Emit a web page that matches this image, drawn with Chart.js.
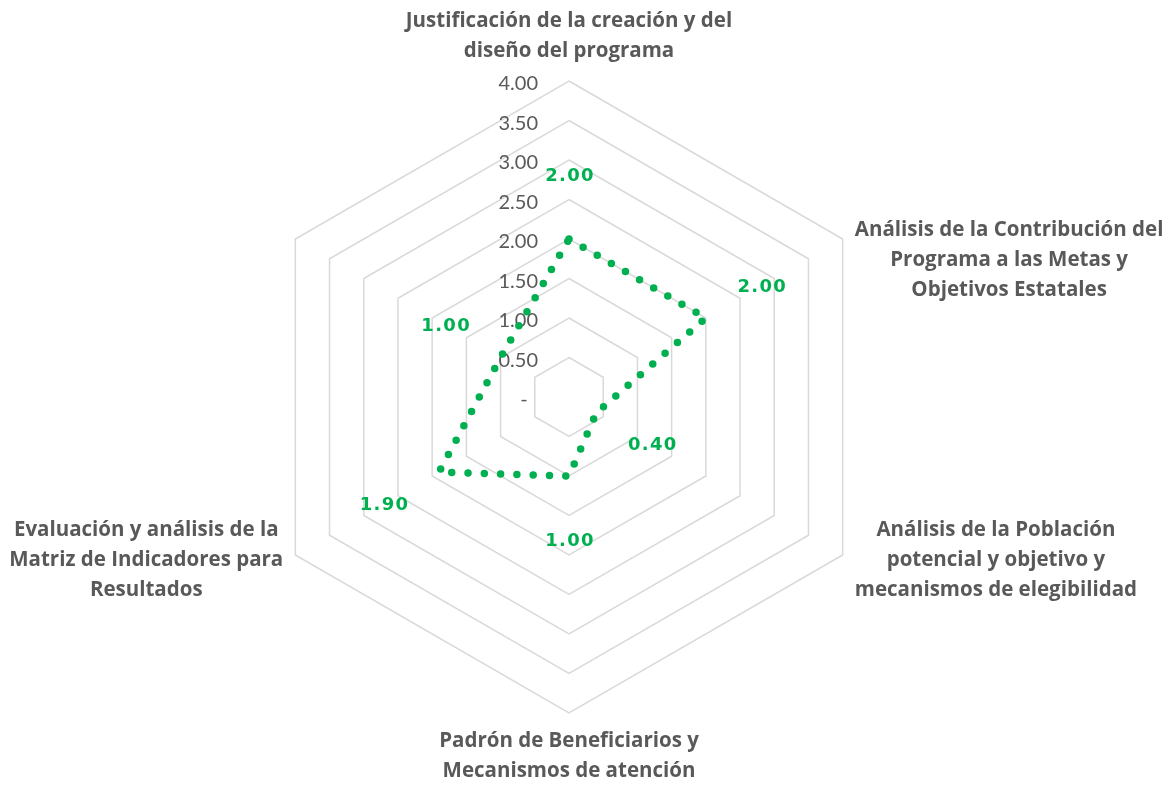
<!DOCTYPE html>
<html>
<head>
<meta charset="utf-8">
<script src="https://cdn.jsdelivr.net/npm/chart.js@4"></script>
<style>
  body { margin: 0; background: #fff; }
  #grafica { width: 1176px; height: 785px; }
</style>
</head>
<body>
<div id="grafica"><canvas id="radar"></canvas></div>
<script>
const categorias = [
  ['Justificación de la creación y del', 'diseño del programa'],
  ['Análisis de la Contribución del', 'Programa a las Metas y', 'Objetivos Estatales'],
  ['Análisis de la Población', 'potencial y objetivo y', 'mecanismos de elegibilidad'],
  ['Padrón de Beneficiarios y', 'Mecanismos de atención'],
  ['Evaluación y análisis de la', 'Matriz de Indicadores para', 'Resultados'],
  ['']
];
const valores = [2.00, 2.00, 0.40, 1.00, 1.90, 1.00];
const escalaMin = 0;
const escalaMax = 4;
const escalaPaso = 0.5;

const verde = '#00B050';
const gris = '#595959';

// etiquetas de la escala, a la izquierda del eje vertical
const etiquetasEscala = {
  id: 'etiquetasEscala',
  beforeDatasetsDraw(chart) {
    const r = chart.scales.r;
    const ctx = chart.ctx;
    ctx.save();
    ctx.font = '20px Lato';
    ctx.fillStyle = gris;
    ctx.textAlign = 'right';
    ctx.textBaseline = 'middle';
    r.ticks.forEach(t => {
      const y = r.yCenter - r.getDistanceFromCenterForValue(t.value) + 3;
      const txt = t.value === 0 ? '-  ' : t.value.toFixed(2);
      ctx.fillText(txt, r.xCenter - 31, y);
    });
    ctx.restore();
  }
};

// nombres de las categorias, centrados por bloque
const nombresCategorias = {
  id: 'nombresCategorias',
  afterDraw(chart) {
    const r = chart.scales.r;
    const ctx = chart.ctx;
    const lh = 30;
    const dist = r.drawingArea + 14;
    ctx.save();
    ctx.font = 'bold 20.5px "Open Sans"';
    ctx.fillStyle = gris;
    ctx.textAlign = 'center';
    ctx.textBaseline = 'middle';
    chart.data.labels.forEach((lineas, i) => {
      const p = r.getPointPosition(i, dist);
      const w = Math.max(...lineas.map(l => ctx.measureText(l).width));
      const h = lineas.length * lh;
      const c = (p.x - r.xCenter) / dist;
      let cx = p.x, top;
      if (c > 0.2) cx = p.x + w / 2;
      else if (c < -0.2) cx = p.x - w / 2;
      if (Math.abs(c) <= 0.2) {
        top = p.y < r.yCenter ? p.y - h - 1 : p.y - 1;
      } else {
        top = p.y < r.yCenter ? p.y - 17 : p.y - h / 2 - 2;
      }
      lineas.forEach((l, k) => ctx.fillText(l, cx, top + lh * k + lh / 2));
    });
    ctx.restore();
  }
};

// valores en verde, desplazados hacia fuera de cada punto
const etiquetasValores = {
  id: 'etiquetasValores',
  afterDatasetsDraw(chart) {
    const r = chart.scales.r;
    const ctx = chart.ctx;
    ctx.save();
    ctx.font = 'bold 18px "DejaVu Sans"';
    ctx.letterSpacing = '1.3px';
    ctx.fillStyle = verde;
    ctx.textAlign = 'center';
    ctx.textBaseline = 'middle';
    chart.data.datasets[0].data.forEach((v, i) => {
      const p = r.getPointPosition(i, r.getDistanceFromCenterForValue(v) + 64);
      ctx.fillText(v.toFixed(2), p.x + 1, p.y + 1);
    });
    ctx.restore();
  }
};

new Chart(document.getElementById('radar'), {
  type: 'radar',
  data: {
    labels: categorias,
    datasets: [{
      data: valores,
      borderColor: verde,
      backgroundColor: 'transparent',
      fill: false,
      borderWidth: 7.5,
      borderDash: [0, 16.3],
      borderCapStyle: 'round',
      borderJoinStyle: 'round',
      pointRadius: 0,
      pointHoverRadius: 0,
      tension: 0
    }]
  },
  options: {
    responsive: true,
    maintainAspectRatio: false,
    animation: false,
    layout: { padding: { top: 81, bottom: 72, left: 0, right: 38 } },
    plugins: {
      legend: { display: false },
      tooltip: { enabled: false }
    },
    scales: {
      r: {
        min: escalaMin,
        max: escalaMax,
        ticks: { stepSize: escalaPaso, display: false, showLabelBackdrop: false },
        grid: { color: '#D9D9D9', lineWidth: 1.5, circular: false },
        angleLines: { display: false },
        pointLabels: { display: false }
      }
    }
  },
  plugins: [etiquetasEscala, nombresCategorias, etiquetasValores]
});
</script>
</body>
</html>
